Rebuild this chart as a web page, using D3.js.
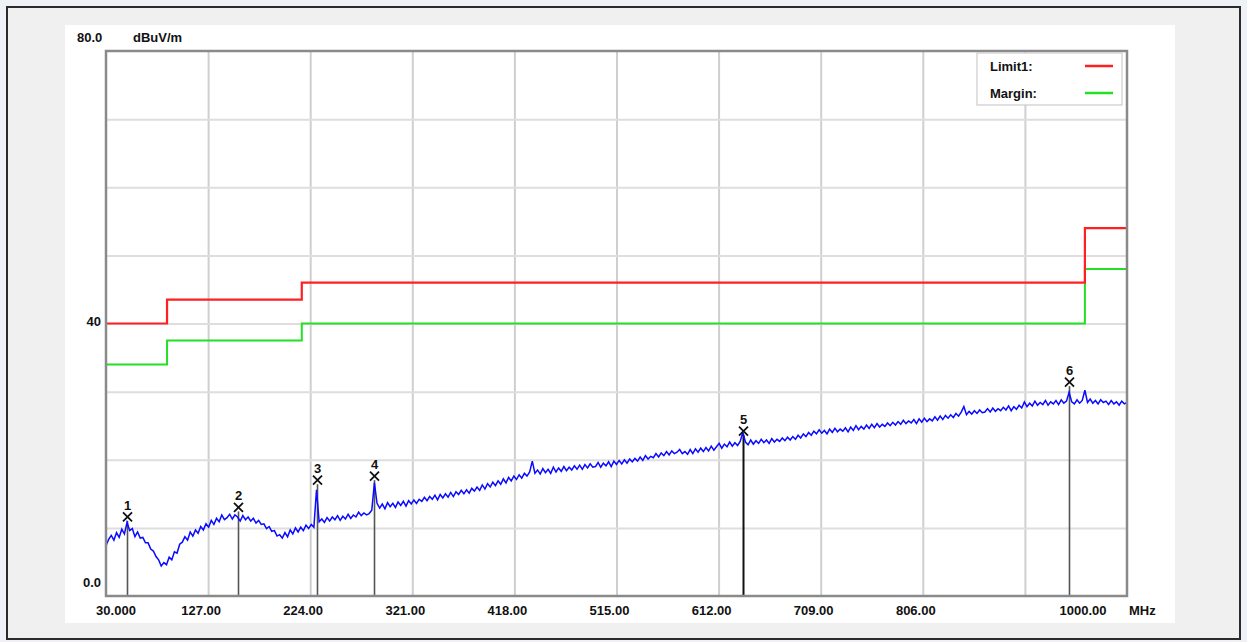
<!DOCTYPE html>
<html>
<head>
<meta charset="utf-8">
<script src="https://cdn.jsdelivr.net/npm/d3@7/dist/d3.min.js"></script>
<style>
  html, body { margin: 0; padding: 0; background: #eef2f6; }
  svg { display: block; }
  text { font-family: "Liberation Sans", Arial, sans-serif; }
</style>
</head>
<body>
<svg id="chart" width="1247" height="642"></svg>
<script>
// ---------------- data ----------------
const xDomain = [30, 1000];
const yDomain = [0, 80];
const xTickValues = [127, 224, 321, 418, 515, 612, 709, 806, 903];
const xTickLabelValues = [30, 127, 224, 321, 418, 515, 612, 709, 806, 1000];
const xTickLabels = ["30.000", "127.00", "224.00", "321.00", "418.00", "515.00", "612.00", "709.00", "806.00", "1000.00"];
const yGridValues = [10, 20, 30, 40, 50, 60, 70];
const yTickLabelValues = [80, 40, 0];
const yTickLabels = ["80.0", "40", "0.0"];
const yUnit = "dBuV/m";
const xUnit = "MHz";

// Limit and margin step lines
const limitFreqs = [30, 88, 216, 960, 1000];
const limitLevels = [40, 43.5, 46, 54, 54];
const marginLevels = [34, 37.5, 40, 48, 48];

// Measured trace, 2.5 MHz steps starting at 30 MHz (each row = 50 MHz)
const traceStart = 30;
const traceStep = 2.5;
const traceValues = [
  7.4, 8.3, 8.9, 8.2, 9.3, 8.6, 9.8, 9.1, 10.8, 9.6, 9.9, 8.7, 9.4, 8.5, 8.6, 7.8, 7.8, 6.9, 6.6, 5.8,
  5.3, 4.4, 4.9, 4.6, 5.7, 5.3, 6.5, 6.3, 7.6, 7.9, 8.7, 8.2, 9.4, 8.8, 9.7, 9.2, 10.2, 9.7, 10.6, 10.1,
  11.1, 10.5, 11.4, 10.9, 11.9, 11.2, 11.5, 12.0, 11.3, 11.9, 11.6, 11.0, 11.8, 11.2, 11.6, 11.0, 11.4, 10.7, 11.1, 10.5,
  10.6, 9.9, 10.2, 9.5, 9.6, 8.8, 9.0, 8.5, 9.3, 8.7, 9.7, 9.1, 10.0, 9.4, 10.1, 9.6, 10.4, 9.9, 10.5, 10.1,
  15.6, 10.9, 11.3, 10.8, 11.5, 11.0, 11.6, 11.2, 11.8, 11.1, 11.7, 11.3, 12.0, 11.4, 11.9, 11.6, 12.3, 11.8, 12.2, 11.9,
  12.1, 12.6, 16.6, 13.6, 12.9, 13.5, 12.8, 13.7, 13.1, 13.6, 13.0, 13.8, 13.3, 13.9, 13.2, 14.0, 13.5, 14.1, 13.6, 14.2,
  13.9, 14.5, 14.0, 14.6, 14.2, 14.8, 14.1, 14.9, 14.4, 15.0, 14.5, 15.2, 14.6, 15.3, 14.9, 15.5, 15.0, 15.6, 15.1, 15.8,
  15.4, 16.0, 15.5, 16.3, 15.7, 16.5, 16.0, 16.7, 16.2, 16.9, 16.4, 17.2, 16.6, 17.4, 16.9, 17.6, 17.1, 17.8, 17.3, 18.0,
  17.6, 18.2, 19.8, 18.0, 18.5, 17.9, 18.7, 18.1, 18.6, 18.0, 18.9, 18.2, 18.8, 18.3, 19.0, 18.4, 18.9, 18.5, 19.1, 18.6,
  19.2, 18.6, 19.3, 18.8, 19.4, 18.9, 19.0, 19.6, 18.9, 19.5, 19.1, 19.7, 19.0, 19.8, 19.3, 19.9, 19.4, 20.0, 19.5, 20.1,
  19.7, 20.2, 19.8, 20.4, 19.9, 20.6, 20.1, 20.5, 20.3, 20.9, 20.4, 21.0, 20.6, 21.2, 20.7, 21.3, 20.9, 21.1, 21.5, 20.9,
  21.2, 20.8, 21.5, 20.9, 21.6, 21.1, 21.7, 21.2, 21.8, 21.3, 22.0, 21.4, 21.9, 22.4, 21.7, 22.3, 21.9, 22.6, 22.0, 22.5,
  22.1, 22.7, 24.0, 22.6, 22.2, 22.9, 22.3, 22.8, 22.4, 23.0, 22.5, 22.9, 22.4, 23.1, 22.6, 23.0, 22.7, 23.2, 22.8, 23.3,
  22.9, 23.4, 23.0, 23.6, 23.2, 23.8, 23.4, 24.0, 23.6, 24.2, 23.8, 24.4, 23.9, 24.3, 23.8, 24.5, 24.0, 24.6, 24.1, 24.5,
  24.2, 24.7, 24.1, 24.8, 24.3, 25.0, 24.4, 24.9, 24.5, 25.1, 24.6, 25.2, 24.7, 25.3, 24.8, 25.2, 24.9, 25.4, 25.0, 25.5,
  25.1, 25.6, 25.2, 25.8, 25.3, 25.7, 25.4, 25.9, 25.3, 26.0, 25.5, 26.1, 25.6, 26.0, 25.7, 26.3, 25.8, 26.4, 25.9, 26.5,
  26.1, 26.6, 26.2, 26.8, 26.4, 27.0, 27.8, 26.6, 27.1, 26.7, 27.2, 26.8, 27.3, 26.9, 27.0, 27.5, 27.0, 27.6, 27.1, 27.5,
  27.2, 27.7, 27.3, 27.9, 27.2, 27.8, 27.4, 28.0, 27.6, 28.5, 27.8, 28.3, 27.9, 28.6, 28.0, 28.4, 28.1, 28.7, 28.0, 28.5,
  28.2, 28.7, 28.1, 28.8, 28.3, 28.6, 29.9, 28.5, 28.2, 28.8, 28.3, 28.7, 30.2, 28.4, 28.9, 28.3, 28.7, 28.2, 28.8, 28.4,
  28.6, 28.1, 28.7, 28.2, 28.5, 28.0, 28.6, 28.2, 28.4
];

// Markers
const markerIds = ["1", "2", "3", "4", "5", "6"];
const markerFreqs = [50, 155, 230, 285, 635, 945];
const markerLevels = [11.6, 13.0, 17.0, 17.6, 24.2, 31.4];

// Legend
const legendNames = ["Limit1:", "Margin:"];
const legendColors = ["#ff2020", "#22e022"];

// ---------------- drawing ----------------
const svg = d3.select("#chart");
const plot = { left: 106, right: 1127, top: 51, bottom: 596 };

const x = d3.scaleLinear().domain(xDomain).range([plot.left, plot.right]);
const y = d3.scaleLinear().domain(yDomain).range([plot.bottom, plot.top]);

// outer frame
svg.append("rect").attr("x", 0).attr("y", 0).attr("width", 1247).attr("height", 642).attr("fill", "#eef2f6");
svg.append("rect").attr("x", 7).attr("y", 7).attr("width", 1233).attr("height", 632)
  .attr("fill", "#f0f0f0").attr("stroke", "#2b2b2b").attr("stroke-width", 2);
svg.append("rect").attr("x", 65).attr("y", 25).attr("width", 1110).attr("height", 598).attr("fill", "#ffffff");

// plot background
svg.append("rect").attr("x", plot.left).attr("y", plot.top)
  .attr("width", plot.right - plot.left).attr("height", plot.bottom - plot.top).attr("fill", "#ffffff");

// gridlines via axes
const gx = svg.append("g").attr("transform", `translate(0,${plot.bottom})`)
  .call(d3.axisBottom(x).tickValues(xTickValues).tickSize(-(plot.bottom - plot.top)).tickFormat(""));
gx.select(".domain").remove();
gx.selectAll(".tick line").attr("stroke", "#cfcfcf").attr("stroke-width", 2);

const gy = svg.append("g").attr("transform", `translate(${plot.left},0)`)
  .call(d3.axisLeft(y).tickValues(yGridValues).tickSize(-(plot.right - plot.left)).tickFormat(""));
gy.select(".domain").remove();
gy.selectAll(".tick line").attr("stroke", "#dedede").attr("stroke-width", 2);

// limit and margin step lines
const stepLine = d3.line().curve(d3.curveStepAfter).x(d => x(d[0])).y(d => y(d[1]));
svg.append("path").datum(limitFreqs.map((f, i) => [f, marginLevels[i]]))
  .attr("d", stepLine).attr("fill", "none").attr("stroke", legendColors[1]).attr("stroke-width", 2);
svg.append("path").datum(limitFreqs.map((f, i) => [f, limitLevels[i]]))
  .attr("d", stepLine).attr("fill", "none").attr("stroke", legendColors[0]).attr("stroke-width", 2.2);

// marker stems
markerFreqs.forEach((f, i) => {
  svg.append("line")
    .attr("x1", Math.round(x(f)) + 0.5).attr("x2", Math.round(x(f)) + 0.5)
    .attr("y1", y(markerLevels[i]) + 4).attr("y2", plot.bottom)
    .attr("stroke", i === 4 ? "#111" : "#555").attr("stroke-width", i === 4 ? 2 : 1.6);
});

// trace
const traceData = traceValues.map((v, i) => [traceStart + i * traceStep, v]);
svg.append("path").datum(traceData)
  .attr("d", d3.line().x(d => x(d[0])).y(d => y(d[1])))
  .attr("fill", "none").attr("stroke", "#0a0aff").attr("stroke-width", 1.5)
  .attr("stroke-linejoin", "miter");

// marker glyphs
markerFreqs.forEach((f, i) => {
  const cx = Math.round(x(f)) + 0.5, cy = y(markerLevels[i]);
  const s = 4.5;
  svg.append("path")
    .attr("d", `M${cx - s},${cy - s}L${cx + s},${cy + s}M${cx - s},${cy + s}L${cx + s},${cy - s}`)
    .attr("stroke", "#111").attr("stroke-width", 1.8).attr("fill", "none");
  svg.append("text").attr("x", cx).attr("y", cy - 7)
    .attr("text-anchor", "middle").attr("font-size", 13).attr("font-weight", "bold").attr("fill", "#111")
    .text(markerIds[i]);
});

// plot border
svg.append("rect").attr("x", plot.left).attr("y", plot.top)
  .attr("width", plot.right - plot.left).attr("height", plot.bottom - plot.top)
  .attr("fill", "none").attr("stroke", "#8a8a8a").attr("stroke-width", 2.5);

// legend
const lg = svg.append("g");
lg.append("rect").attr("x", 977).attr("y", 53).attr("width", 145).attr("height", 52)
  .attr("fill", "#ffffff").attr("stroke", "#cccccc").attr("stroke-width", 1.2);
legendNames.forEach((n, i) => {
  const yy = 66 + i * 27;
  lg.append("text").attr("x", 990).attr("y", yy + 5).attr("font-size", 13).attr("font-weight", "bold")
    .attr("fill", "#111").text(n);
  lg.append("line").attr("x1", 1085).attr("x2", 1113).attr("y1", yy).attr("y2", yy)
    .attr("stroke", legendColors[i]).attr("stroke-width", 2.5);
});

// x tick labels
const xLabelShift = [10, -7, -7, -7, -7, -7, -7, -7, -7, -44];
xTickLabelValues.forEach((v, i) => {
  svg.append("text").attr("x", x(v) + xLabelShift[i]).attr("y", 615)
    .attr("text-anchor", "middle").attr("font-size", 13).attr("font-weight", "bold")
    .attr("fill", "#111").text(xTickLabels[i]);
});
svg.append("text").attr("x", 1129).attr("y", 615).attr("font-size", 13).attr("font-weight", "bold")
  .attr("fill", "#111").text(xUnit);

// y tick labels
yTickLabelValues.forEach((v, i) => {
  const yy = v === 80 ? 42 : (v === 0 ? 587 : y(v) + 2);
  svg.append("text").attr("x", v === 80 ? 77 : 101).attr("y", yy)
    .attr("text-anchor", v === 80 ? "start" : "end")
    .attr("font-size", 13).attr("font-weight", "bold").attr("fill", "#111").text(yTickLabels[i]);
});
svg.append("text").attr("x", 133).attr("y", 42).attr("font-size", 13).attr("font-weight", "bold")
  .attr("fill", "#111").text(yUnit);
</script>
</body>
</html>
